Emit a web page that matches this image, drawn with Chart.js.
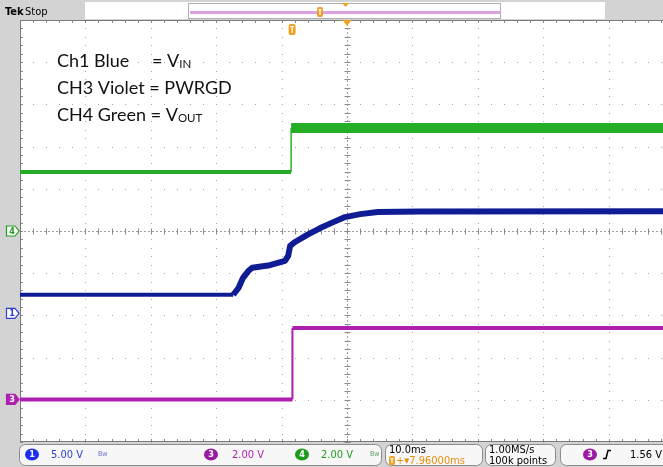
<!DOCTYPE html>
<html>
<head>
<meta charset="utf-8">
<script src="https://cdn.jsdelivr.net/npm/chart.js@4.4.1/dist/chart.umd.min.js"></script>
<style>
    html, body { margin: 0; padding: 0; background: #fff; }
    #wrap { width: 663px; height: 467px; }
</style>
</head>
<body>
<div id="wrap"><canvas id="scope" width="663" height="467"></canvas></div>
<script>
// Time axis: ms relative to trigger, 10 ms/div, screen is cut on the right
const timeRange = [-41.6, 56.7];
const msPerDiv = 10;
const vertDivs = 10;

// Channel settings (status bar) and ground offsets in divisions
const chLabels = ['1', '3', '4'];
const voltsPerDiv = [5.0, 2.0, 2.0];
const groundDiv = [-1.95, -3.99, 0.0];

// CH1 Blue = VIN
const vinTime  = [-41.6, -9.0, -8.2, -7.5, -6.7, -6.1, -3.4, -1.1, -0.6, -0.3, 0.45, 2.3, 4.3, 6.3, 8.1, 10.4, 13.1, 19.6, 56.7];
const vinVolts = [2.2, 2.2, 3.0, 4.2, 5.0, 5.4, 5.7, 6.2, 6.8, 8.0, 8.45, 9.3, 10.1, 10.8, 11.4, 11.75, 12.0, 12.05, 12.1];

// CH3 Violet = PWRGD
const pgTime  = [-41.6, 0.05, 0.05, 56.7];
const pgVolts = [0.0, 0.0, 3.38, 3.38];

// CH4 Green = VOUT
const voutTime  = [-41.6, -0.15, -0.15, 56.7];
const voutVolts = [2.8, 2.8, 4.88, 4.88];

const toDiv = (volts, ch) => volts.map(v => v / voltsPerDiv[ch] + groundDiv[ch]);
const points = (t, d) => t.map((x, i) => ({ x, y: d[i] }));

// flat parts of a trace are a wide noise band, edges are thin
const band = (flatW, edgeW) => ctx => {
    const dx = Math.abs(ctx.p1.parsed.x - ctx.p0.parsed.x);
    return dx < 0.01 ? edgeW : flatW;
};

const chColors = ['#101c94', '#ad1fb0', '#26ad26'];
const labelColors = ['#2f3fd0', '#b020b0', '#1f9e1f'];

const tekFont = "'Liberation Sans Narrow', 'DejaVu Sans Condensed', sans-serif";

const graticule = {
    id: 'graticule',
    beforeDraw(chart) {
        const { ctx, chartArea: a } = chart;
        ctx.save();
        ctx.fillStyle = '#d3d3d3';
        ctx.fillRect(0, 0, chart.width, chart.height);
        ctx.fillStyle = '#ffffff';
        ctx.fillRect(a.left, a.top, a.right - a.left, a.bottom - a.top);
        ctx.restore();
    },
    beforeDatasetsDraw(chart) {
        const { ctx, chartArea: a, scales: { x, y } } = chart;
        const xMinor = msPerDiv / 5, yMinor = 0.2;
        const xs = [], ys = [];
        for (let i = 0; i <= 10; i++) xs.push(x.min + i * msPerDiv);
        for (let j = -vertDivs / 2; j <= vertDivs / 2; j++) ys.push(j);
        ctx.save();
        // dotted major lines
        ctx.fillStyle = '#a8a8a8';
        xs.forEach((v, i) => {
            if (i === 0 || i === 5) return;
            const px = Math.round(x.getPixelForValue(v));
            if (px > a.right) return;
            for (let s = y.min; s <= y.max + 1e-6; s += yMinor) {
                ctx.fillRect(px, Math.round(y.getPixelForValue(s)), 1, 1);
            }
        });
        ys.forEach(v => {
            if (v === 0 || Math.abs(v) === vertDivs / 2) return;
            const py = Math.round(y.getPixelForValue(v));
            for (let s = x.min; s <= x.max; s += xMinor) {
                ctx.fillRect(Math.round(x.getPixelForValue(s)), py, 1, 1);
            }
        });
        // centre cross with minor ticks
        const cx = Math.round(x.getPixelForValue(x.min + 5 * msPerDiv)) + 0.5;
        const cy = Math.round(y.getPixelForValue(0)) + 0.5;
        ctx.strokeStyle = '#a0a0a0';
        ctx.lineWidth = 1;
        ctx.setLineDash([2, 2]);
        ctx.beginPath();
        ctx.moveTo(a.left, cy); ctx.lineTo(a.right, cy);
        ctx.moveTo(cx, a.top); ctx.lineTo(cx, a.bottom);
        ctx.stroke();
        ctx.setLineDash([]);
        ctx.strokeStyle = '#8a8a8a';
        ctx.beginPath();
        for (let s = x.min; s <= x.max; s += xMinor) {
            const px = Math.round(x.getPixelForValue(s)) + 0.5;
            ctx.moveTo(px, cy - 3); ctx.lineTo(px, cy + 3);
            ctx.moveTo(px, a.top); ctx.lineTo(px, a.top + 3);
            ctx.moveTo(px, a.bottom); ctx.lineTo(px, a.bottom - 3);
        }
        for (let s = y.min; s <= y.max + 1e-6; s += yMinor) {
            const py = Math.round(y.getPixelForValue(s)) + 0.5;
            ctx.moveTo(cx - 3, py); ctx.lineTo(cx + 3, py);
            ctx.moveTo(a.left, py); ctx.lineTo(a.left + 3, py);
        }
        ctx.stroke();
        // frame
        ctx.strokeStyle = '#7a7a7a';
        ctx.beginPath();
        ctx.moveTo(a.left + 0.5, a.top); ctx.lineTo(a.left + 0.5, a.bottom);
        ctx.moveTo(a.left, a.top + 0.5); ctx.lineTo(a.right, a.top + 0.5);
        ctx.moveTo(a.left, a.bottom - 0.5); ctx.lineTo(a.right, a.bottom - 0.5);
        ctx.stroke();
        ctx.restore();
    }
};

function tag(ctx, yc, color, filled, label) {
    ctx.beginPath();
    ctx.moveTo(6.5, yc - 5); ctx.lineTo(15, yc - 5); ctx.lineTo(19, yc);
    ctx.lineTo(15, yc + 5); ctx.lineTo(6.5, yc + 5); ctx.closePath();
    ctx.fillStyle = filled ? color : '#ffffff';
    ctx.fill();
    ctx.strokeStyle = color; ctx.lineWidth = 1.2; ctx.stroke();
    ctx.fillStyle = filled ? '#ffffff' : color;
    ctx.font = 'bold 9px ' + tekFont;
    ctx.textAlign = 'center'; ctx.textBaseline = 'middle';
    ctx.fillText(label, 12, yc + 0.5);
}

function roundBox(ctx, x0, y0, w, h, r) {
    ctx.beginPath();
    ctx.roundRect(x0 + 0.5, y0 + 0.5, w, h, r);
    ctx.fillStyle = '#f7f7f7'; ctx.fill();
    ctx.strokeStyle = '#8c8c8c'; ctx.lineWidth = 1; ctx.stroke();
}

function chBadge(ctx, xc, yc, color, label) {
    ctx.beginPath();
    ctx.ellipse(xc, yc, 7, 6, 0, 0, Math.PI * 2);
    ctx.fillStyle = color; ctx.fill();
    ctx.fillStyle = '#ffffff';
    ctx.font = 'bold 9px ' + tekFont;
    ctx.textAlign = 'center'; ctx.textBaseline = 'middle';
    ctx.fillText(label, xc, yc + 0.5);
}

function trigIcon(ctx, xc, y0, w, h) {
    ctx.fillStyle = '#f0a020';
    ctx.beginPath(); ctx.roundRect(xc - w / 2, y0, w, h, 2); ctx.fill();
    ctx.fillStyle = '#ffffff';
    ctx.fillRect(xc - w / 2 + 1.5, y0 + 2, w - 3, 1.2);
    ctx.fillRect(xc - 0.6, y0 + 2, 1.2, h - 4);
}

function statusText(ctx, text, x0, y0, color) {
    ctx.font = '11px ' + tekFont;
    ctx.textAlign = 'left'; ctx.textBaseline = 'middle';
    ctx.fillStyle = color;
    ctx.fillText(text, x0, y0);
}

const overlay = {
    id: 'overlay',
    afterDraw(chart) {
        const { ctx, chartArea: a, scales: { x, y } } = chart;
        ctx.save();
        // top record bar
        ctx.fillStyle = '#ffffff';
        ctx.fillRect(85, 2, 520, a.top - 3);
        ctx.strokeStyle = '#b0b0b0';
        ctx.strokeRect(188.5, 3.5, 312, a.top - 5);
        ctx.fillStyle = '#dca0e0';
        ctx.fillRect(190, 11, 310, 3);
        trigIcon(ctx, 320, 7, 6, 10);
        ctx.fillStyle = '#f0a020';
        ctx.beginPath(); ctx.moveTo(342, 3); ctx.lineTo(349, 3); ctx.lineTo(345.5, 7); ctx.fill();

        ctx.fillStyle = '#000000';
        ctx.textAlign = 'left'; ctx.textBaseline = 'alphabetic';
        ctx.font = 'bold 11px ' + tekFont;
        ctx.fillText('Tek', 5, 15);
        ctx.font = '11px ' + tekFont;
        ctx.fillText('Stop', 25, 15);

        // trigger position and expansion markers on the graticule
        const tx = x.getPixelForValue(0);
        const cx = x.getPixelForValue(x.min + 5 * msPerDiv);
        trigIcon(ctx, tx, a.top + 4, 7, 11);
        ctx.fillStyle = '#f0a020';
        ctx.beginPath(); ctx.moveTo(cx - 4.5, a.top); ctx.lineTo(cx + 4.5, a.top); ctx.lineTo(cx, a.top + 6); ctx.fill();

        // channel ground markers
        tag(ctx, y.getPixelForValue(groundDiv[2]), '#1f9e1f', false, chLabels[2]);
        tag(ctx, y.getPixelForValue(groundDiv[0]), '#2f3fd0', false, chLabels[0]);
        tag(ctx, y.getPixelForValue(groundDiv[1]), '#b020b0', true, chLabels[1]);

        // status bar
        const sy = a.bottom + 2, sh = chart.height - sy - 2;
        roundBox(ctx, 19, sy, 362, sh, 6);
        roundBox(ctx, 385, sy, 97, sh, 6);
        roundBox(ctx, 485, sy, 70, sh, 6);
        roundBox(ctx, 560, sy, 120, sh, 6);
        const my = sy + sh / 2;
        chBadge(ctx, 32, my, '#1a2ef0', chLabels[0]);
        chBadge(ctx, 211, my, '#9a1aa0', chLabels[1]);
        chBadge(ctx, 302, my, '#1c9c1c', chLabels[2]);
        statusText(ctx, voltsPerDiv[0].toFixed(2) + ' V', 51, my + 1, labelColors[0]);
        statusText(ctx, voltsPerDiv[1].toFixed(2) + ' V', 232, my + 1, labelColors[1]);
        statusText(ctx, voltsPerDiv[2].toFixed(2) + ' V', 321, my + 1, labelColors[2]);
        ctx.font = '7px ' + tekFont;
        ctx.fillStyle = '#6a6ad0';
        ctx.fillText('Bw', 98, my);
        ctx.fillStyle = '#5a9a5a';
        ctx.fillText('Bw', 370, my);

        statusText(ctx, msPerDiv.toFixed(1) + 'ms', 389, sy + 6, '#000000');
        statusText(ctx, '1.00MS/s', 489, sy + 6, '#000000');
        statusText(ctx, '100k points', 489, sy + 17, '#000000');
        trigIcon(ctx, 392, sy + 12, 6, 9);
        statusText(ctx, '+\u25BE7.96000ms', 396, sy + 17, '#e8900c');

        chBadge(ctx, 590, my, '#9a1aa0', chLabels[1]);
        ctx.strokeStyle = '#000000'; ctx.lineWidth = 1.5;
        ctx.beginPath();
        ctx.moveTo(603, my + 4); ctx.lineTo(606, my + 4); ctx.lineTo(608, my - 4); ctx.lineTo(611, my - 4);
        ctx.stroke();
        statusText(ctx, '1.56 V', 630, my + 1, '#000000');

        // annotation
        ctx.fillStyle = '#111111';
        ctx.textAlign = 'left';
        ctx.textBaseline = 'alphabetic';
        ctx.font = '18px Lato, sans-serif';
        ctx.fillText('Ch1 Blue', 57, 67);
        ctx.fillText('= V', 152, 67);
        ctx.fillText('CH3 Violet = PWRGD', 57, 94);
        ctx.fillText('CH4 Green = V', 57, 121);
        const wV1 = ctx.measureText('= V').width;
        const wV3 = ctx.measureText('CH4 Green = V').width;
        ctx.font = '11.5px Lato, sans-serif';
        ctx.fillText('IN', 152 + wV1, 68);
        ctx.fillText('OUT', 57 + wV3, 122);
        ctx.restore();
    }
};

const datasets = [
    {
        label: 'CH4 Green = VOUT',
        data: points(voutTime, toDiv(voutVolts, 2)),
        borderColor: chColors[2],
        borderWidth: 4,
        segment: { borderWidth: ctx => ctx.p0.parsed.y > 2 && ctx.p1.parsed.y > 2 ? 10 : band(4, 1.5)(ctx) }
    },
    {
        label: 'CH1 Blue = VIN',
        data: points(vinTime, toDiv(vinVolts, 0)),
        borderColor: chColors[0],
        borderWidth: 5,
        segment: { borderWidth: ctx => ctx.p0.parsed.x < vinTime[1] - 0.01 ? 4 : 6 }
    },
    {
        label: 'CH3 Violet = PWRGD',
        data: points(pgTime, toDiv(pgVolts, 1)),
        borderColor: chColors[1],
        borderWidth: 4,
        segment: { borderWidth: band(4, 2) }
    }
];

new Chart(document.getElementById('scope'), {
    type: 'line',
    data: { datasets },
    options: {
        responsive: false,
        animation: false,
        layout: { padding: { left: 20, top: 20, right: 0, bottom: 25 } },
        elements: {
            point: { radius: 0 },
            line: { tension: 0, borderJoinStyle: 'round', borderCapStyle: 'butt' }
        },
        plugins: { legend: { display: false }, tooltip: { enabled: false } },
        scales: {
            x: { type: 'linear', min: timeRange[0], max: timeRange[1], display: false },
            y: { type: 'linear', min: -vertDivs / 2, max: vertDivs / 2, display: false }
        }
    },
    plugins: [graticule, overlay]
});
</script>
</body>
</html>
